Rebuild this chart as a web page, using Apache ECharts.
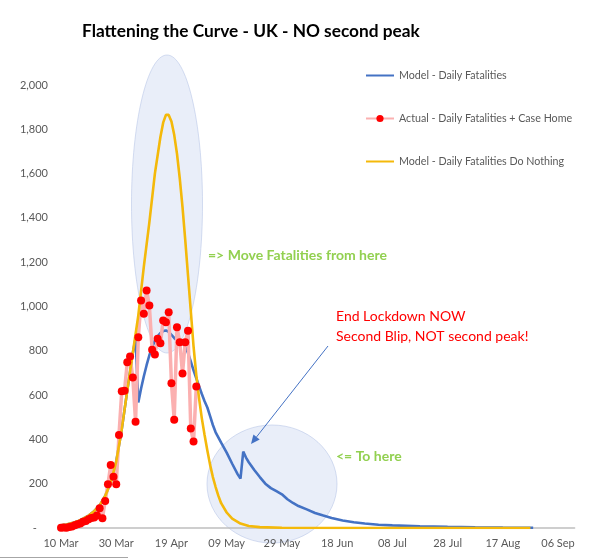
<!DOCTYPE html>
<html>
<head>
<meta charset="utf-8">
<script src="https://cdn.jsdelivr.net/npm/echarts@6/dist/echarts.min.js"></script>
<style>
  html, body { margin: 0; padding: 0; background: #fff; }
  #main { width: 597px; height: 559px; }
</style>
</head>
<body>
<div id="main"></div>
<script>
// x axis is "days since 10 Mar", labelled every 20 days
var tickLabels = ['10 Mar', '30 Mar', '19 Apr', '09 May', '29 May', '18 Jun', '08 Jul', '28 Jul', '17 Aug', '06 Sep'];

// actual daily fatalities (+ care home), one point per day from 10 Mar
var actualValues = [1, 2, 1, 4, 7, 12, 17, 20, 28, 32, 40, 45, 47, 56, 89, 44, 122, 198, 284, 231,
  198, 420, 617, 620, 748, 774, 680, 480, 861, 1027, 967, 1072, 1004, 805, 783, 854, 834, 937, 929, 974,
  653, 489, 906, 839, 698, 839, 891, 449, 390, 639];

// model - daily fatalities (with lockdown, then lockdown ended)
var modelDays = [0, 2, 4, 6, 8, 10, 12, 14, 16, 18, 20, 22, 24, 26,
  27, 28, 29, 30, 31, 32, 33, 34, 35, 36, 37, 38, 39, 40, 41, 42, 43, 44, 45, 46,
  47, 48, 49, 50, 51, 52, 53, 54, 55, 56, 58, 60, 62, 64, 65, 66, 67, 68,
  70, 72, 74, 76, 78, 80, 82, 84, 86, 89, 92, 95, 98, 102, 106, 110, 115, 120,
  130, 140, 150, 160, 171];
var modelValues = [12, 16, 22, 30, 42, 56, 76, 102, 145, 205, 300, 445, 620, 790,
  855, 567, 630, 685, 735, 780, 815, 845, 865, 880, 889, 892, 886, 872, 858, 846, 840, 834, 818, 790,
  752, 712, 676, 640, 605, 572, 544, 505, 465, 432, 385, 340, 290, 242, 223, 345, 318, 297,
  262, 230, 200, 180, 166, 152, 130, 113, 99, 84, 68, 56, 45, 34, 26, 20, 15, 12,
  8, 5, 3, 2, 1];

// model - do nothing
var nothingDays = [0, 2, 4, 6, 8, 10, 12, 14, 16, 18, 20, 22, 24, 26, 28, 30, 32, 34, 36,
  37, 38, 39, 40, 41, 42, 43, 44, 45, 46, 47, 48, 49, 50, 51, 52, 53, 54, 55, 56, 57, 58,
  60, 62, 65, 68, 72, 80, 100, 130, 170];
var nothingValues = [12, 16, 22, 30, 42, 56, 76, 102, 145, 205, 300, 445, 620, 790, 960, 1180, 1380, 1600, 1765,
  1830, 1865, 1865, 1835, 1775, 1690, 1580, 1450, 1300, 1140, 980, 820, 690, 585, 495, 420, 350, 285, 230, 185, 145, 112,
  70, 42, 20, 9, 4, 1, 0, 0, 0];

var FONT = 'Lato';

function pairs(xs, ys) {
  var out = [];
  for (var i = 0; i < xs.length; i++) out.push([xs[i], ys[i]]);
  return out;
}

var actualData = actualValues.map(function (v, i) { return [i, v]; });

var chart = echarts.init(document.getElementById('main'));

// arrow from the text down to the blip
var arrowFrom = [328, 346], arrowTo = [251, 444];
var dx = arrowTo[0] - arrowFrom[0], dy = arrowTo[1] - arrowFrom[1];
var len = Math.sqrt(dx * dx + dy * dy);
var ux = dx / len, uy = dy / len;
var bx = arrowTo[0] - ux * 9, by = arrowTo[1] - uy * 9;

chart.setOption({
  animation: false,
  grid: { left: 61, top: 85, width: 513.6, height: 443 },
  legend: {
    orient: 'vertical',
    left: 365,
    top: 70,
    padding: 0,
    itemWidth: 28,
    itemHeight: 9,
    itemGap: 32,
    textStyle: { color: '#595959', fontSize: 10.7, fontFamily: FONT },
    data: [
      // line only for the model curves
      { name: 'Model - Daily Fatalities', itemStyle: { opacity: 0 } },
      'Actual - Daily Fatalities + Case Home',
      { name: 'Model - Daily Fatalities Do Nothing', itemStyle: { opacity: 0 } }
    ]
  },
  xAxis: {
    type: 'value',
    min: 0,
    max: 186,
    interval: 20,
    axisLine: { lineStyle: { color: '#BFBFBF', width: 1.5 } },
    axisTick: { show: false },
    splitLine: { show: false },
    axisLabel: {
      color: '#595959', fontSize: 11, fontFamily: FONT, margin: 10,
      formatter: function (v) {
        var k = v / 20;
        return (k === Math.floor(k) && k < tickLabels.length) ? tickLabels[k] : '';
      }
    }
  },
  yAxis: {
    type: 'value',
    min: 0,
    max: 2000,
    interval: 200,
    axisLine: { show: false },
    axisTick: { show: false },
    splitLine: { show: false },
    axisLabel: {
      color: '#595959', fontSize: 11, fontFamily: FONT, margin: 13,
      formatter: function (v) {
        return v === 0 ? '-    ' : v.toLocaleString('en-US');
      }
    }
  },
  series: [
    {
      name: 'Model - Daily Fatalities',
      type: 'line',
      symbol: 'none',
      data: pairs(modelDays, modelValues),
      lineStyle: { color: '#4472C4', width: 2.6 },
      itemStyle: { color: '#4472C4' }
    },
    {
      name: 'Actual - Daily Fatalities + Case Home',
      type: 'line',
      symbol: 'circle',
      symbolSize: 8,
      data: actualData,
      lineStyle: { color: '#FBB0B0', width: 3.5 },
      itemStyle: { color: '#FF0000' }
    },
    {
      name: 'Model - Daily Fatalities Do Nothing',
      type: 'line',
      symbol: 'none',
      data: pairs(nothingDays, nothingValues),
      lineStyle: { color: '#F4B90A', width: 2.6 },
      itemStyle: { color: '#F4B90A' }
    }
  ],
  graphic: [
    // highlight ellipses
    {
      type: 'ellipse', z: 0,
      shape: { cx: 167, cy: 204, rx: 35.5, ry: 149 },
      style: { fill: 'rgba(196,210,238,0.38)', stroke: 'rgba(180,195,230,0.55)', lineWidth: 1 }
    },
    {
      type: 'ellipse', z: 0,
      shape: { cx: 272, cy: 484, rx: 65, ry: 59 },
      style: { fill: 'rgba(196,210,238,0.38)', stroke: 'rgba(180,195,230,0.55)', lineWidth: 1 }
    },
    {
      type: 'text', left: 82, top: 23,
      style: { text: 'Flattening the Curve - UK - NO second peak', fill: '#000', font: 'bold 17.3px ' + FONT }
    },
    {
      type: 'text', left: 208, top: 248,
      style: { text: '=> Move Fatalities from here', fill: '#92D050', font: 'bold 14px ' + FONT }
    },
    {
      type: 'text', left: 336, top: 309,
      style: { text: 'End Lockdown NOW', fill: '#FF0000', font: '14px ' + FONT }
    },
    {
      type: 'text', left: 336, top: 329,
      style: { text: 'Second Blip, NOT second peak!', fill: '#FF0000', font: '14px ' + FONT }
    },
    {
      type: 'text', left: 336, top: 449,
      style: { text: '<= To here', fill: '#92D050', font: 'bold 14px ' + FONT }
    },
    {
      type: 'line',
      shape: { x1: arrowFrom[0], y1: arrowFrom[1], x2: bx, y2: by },
      style: { stroke: '#4472C4', lineWidth: 1 }
    },
    {
      type: 'polygon',
      shape: { points: [arrowTo, [bx + uy * 4, by - ux * 4], [bx - uy * 4, by + ux * 4]] },
      style: { fill: '#4472C4' }
    },
    {
      type: 'line',
      shape: { x1: 0, y1: 557.5, x2: 128, y2: 557.5 },
      style: { stroke: '#A6A6A6', lineWidth: 1 }
    }
  ]
});
</script>
</body>
</html>
